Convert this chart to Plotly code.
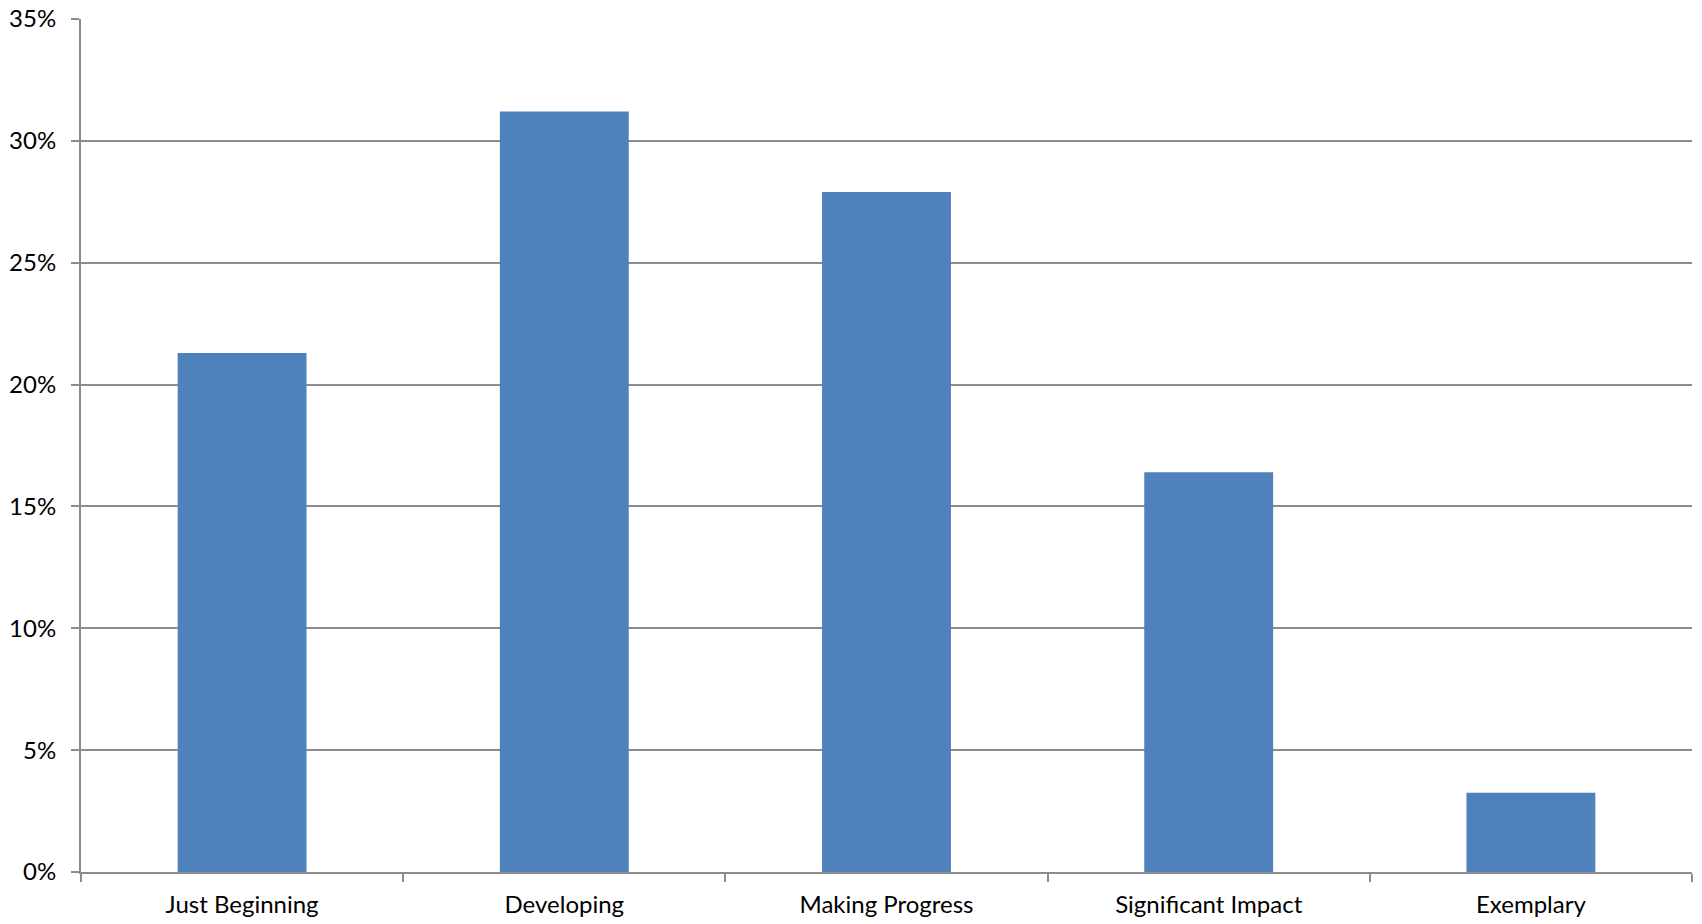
import plotly.graph_objects as go

categories = ["Just Beginning", "Developing", "Making Progress", "Significant Impact", "Exemplary"]
values = [0.213, 0.312, 0.279, 0.164, 0.0325]
y_ticks = [0, 0.05, 0.10, 0.15, 0.20, 0.25, 0.30, 0.35]
y_tick_labels = ["0%", "5%", "10%", "15%", "20%", "25%", "30%", "35%"]

grey = "#8c8c8c"
font = dict(family="Lato, 'Open Sans', sans-serif", size=24, color="#000000")

fig = go.Figure(go.Bar(x=categories, y=values, marker=dict(color="#4F81BD", line=dict(width=0)),
                       hoverinfo="skip"))

fig.update_layout(
    width=1702, height=924,
    margin=dict(l=81, r=10, t=19, b=52),
    paper_bgcolor="white", plot_bgcolor="white",
    bargap=0.6,
    showlegend=False,
    font=font,
)
fig.update_yaxes(
    range=[0, 0.35], tickvals=y_ticks, ticktext=y_tick_labels,
    showgrid=True, gridcolor=grey, gridwidth=2,
    showline=True, linecolor=grey, linewidth=2,
    ticks="outside", ticklen=8, tickcolor=grey, tickwidth=2,
    ticklabelstandoff=10, zeroline=False, tickfont=font, automargin=False,
)
fig.update_xaxes(
    showline=True, linecolor=grey, linewidth=2,
    ticks="outside", tickson="boundaries", ticklen=8, tickcolor=grey, tickwidth=2,
    showgrid=False, tickfont=font, ticklabelstandoff=10, automargin=False,
)

fig.write_html(
    "out.html",
    config={"displayModeBar": False},
    post_script="document.body.style.margin='0';document.body.style.overflow='hidden';",
)
